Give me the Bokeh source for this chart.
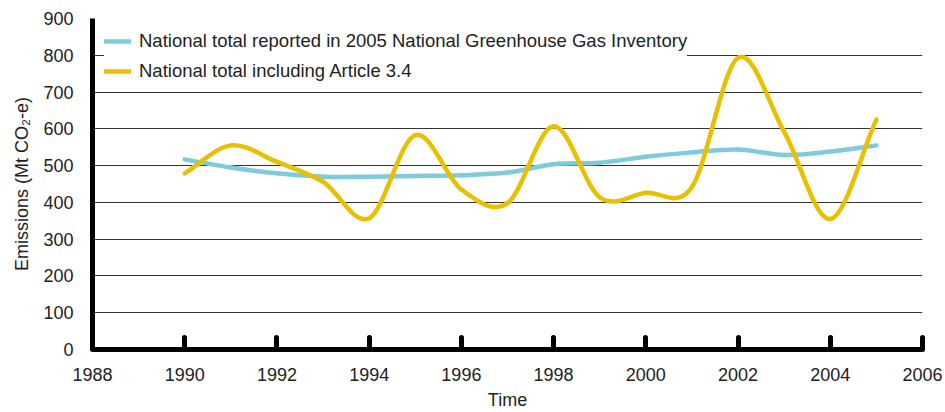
from bokeh.plotting import figure
from bokeh.models import Range1d, FixedTicker, ColumnDataSource
from bokeh.embed import file_html
from bokeh.resources import INLINE

years = [1990, 1991, 1992, 1993, 1994, 1995, 1996, 1997, 1998, 1999,
         2000, 2001, 2002, 2003, 2004, 2005]
inventory = [517, 495, 479, 470, 470, 472, 474, 481, 504, 508,
             524, 536, 544, 529, 538, 555]
article34 = [479, 555, 510, 456, 357, 583, 435, 398, 607, 414,
             426, 442, 793, 592, 355, 625]
x_ticks = [1988, 1990, 1992, 1994, 1996, 1998, 2000, 2002, 2004, 2006]
y_ticks = [0, 100, 200, 300, 400, 500, 600, 700, 800, 900]

BLUE = "#7fcbdb"
GOLD = "#e8c000"
FONT = "Liberation Sans"
TEXT = "#222222"


def bezier_source(xs, ys):
    n = len(xs)
    slopes = []
    for i in range(n):
        a = max(i - 1, 0)
        b = min(i + 1, n - 1)
        slopes.append((ys[b] - ys[a]) / (xs[b] - xs[a]))
    d = dict(x0=[], y0=[], x1=[], y1=[], cx0=[], cy0=[], cx1=[], cy1=[])
    for i in range(n - 1):
        dx = xs[i + 1] - xs[i]
        d["x0"].append(xs[i]); d["y0"].append(ys[i])
        d["x1"].append(xs[i + 1]); d["y1"].append(ys[i + 1])
        d["cx0"].append(xs[i] + dx / 3); d["cy0"].append(ys[i] + slopes[i] * dx / 3)
        d["cx1"].append(xs[i + 1] - dx / 3); d["cy1"].append(ys[i + 1] - slopes[i + 1] * dx / 3)
    return ColumnDataSource(d)


p = figure(width=945, height=412, output_backend="svg", toolbar_location=None,
           x_range=Range1d(1988, 2006), y_range=Range1d(0, 900),
           min_border_left=92, min_border_right=23, min_border_top=18,
           min_border_bottom=62)
p.outline_line_color = None
p.background_fill_color = "white"

p.bezier(x0="x0", y0="y0", x1="x1", y1="y1", cx0="cx0", cy0="cy0", cx1="cx1", cy1="cy1",
         source=bezier_source(years, inventory), line_color=BLUE, line_width=4.5,
         line_cap="round", legend_label="National total reported in 2005 National Greenhouse Gas Inventory")
p.bezier(x0="x0", y0="y0", x1="x1", y1="y1", cx0="cx0", cy0="cy0", cx1="cx1", cy1="cy1",
         source=bezier_source(years, article34), line_color=GOLD, line_width=4.5,
         line_cap="round", legend_label="National total including Article 3.4")

# axes
p.xaxis.ticker = FixedTicker(ticks=x_ticks)
p.yaxis.ticker = FixedTicker(ticks=y_ticks)
for ax in (p.xaxis, p.yaxis):
    ax.axis_line_color = "black"
    ax.axis_line_width = 5
    ax.major_label_text_font = FONT
    ax.major_label_text_font_size = "18px"
    ax.major_label_text_color = TEXT
    ax.axis_label_text_font = FONT
    ax.axis_label_text_font_size = "18px"
    ax.axis_label_text_font_style = "normal"
    ax.axis_label_text_color = TEXT
    ax.minor_tick_line_color = None

p.xaxis.major_tick_in = 12
p.xaxis.major_tick_out = 0
p.xaxis.major_tick_line_width = 5
p.xaxis.major_tick_line_color = "black"
p.xaxis.major_tick_line_cap = "round"
p.xaxis.major_label_standoff = 18
p.xaxis.axis_label = "Time"
p.xaxis.axis_label_standoff = 6

p.yaxis.major_tick_line_color = None
p.yaxis.major_tick_in = 0
p.yaxis.major_tick_out = 0
p.yaxis.major_label_standoff = 19
p.yaxis.axis_label = "Emissions (Mt CO\u2082-e)"
p.yaxis.axis_label_standoff = 8

p.xgrid.grid_line_color = None
p.ygrid.grid_line_color = "#333333"
p.ygrid.grid_line_width = 1

lg = p.legend[0]
lg.location = "top_left"
lg.margin = 12
lg.padding = 11
lg.spacing = 8
lg.label_height = 18
lg.glyph_height = 18
lg.glyph_width = 27
lg.label_standoff = 8
lg.label_text_font = FONT
lg.label_text_font_size = "18.5px"
lg.label_text_color = TEXT
lg.border_line_color = None
lg.background_fill_color = "white"
lg.background_fill_alpha = 1.0

open("out.html", "w").write(file_html(p, INLINE))
